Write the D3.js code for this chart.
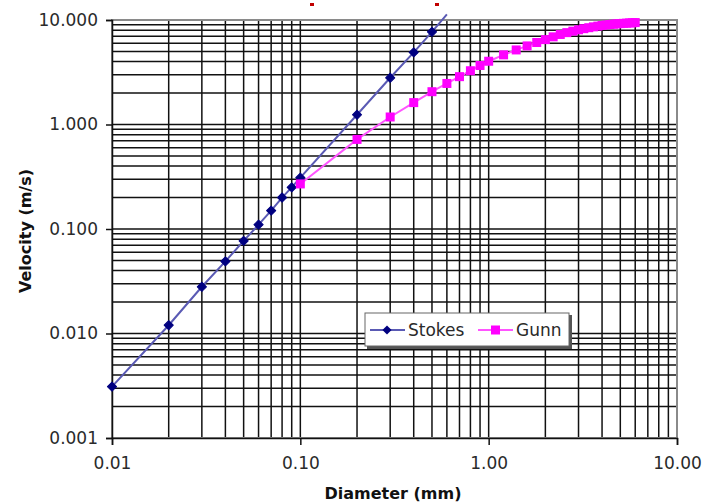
<!DOCTYPE html>
<html>
<head>
<meta charset="utf-8">
<script src="https://cdn.jsdelivr.net/npm/d3@7"></script>
<style>
  body { margin: 0; background: #fff; }
  text { font-family: "DejaVu Sans", Verdana, sans-serif; }
</style>
</head>
<body>
<div id="chart"></div>
<script>
// diameters (mm) and velocities (m/s)
var stokesD = [0.01, 0.02, 0.03, 0.04, 0.05, 0.06, 0.07, 0.08, 0.09, 0.1, 0.2, 0.3, 0.4, 0.5, 0.6];
var stokesV = [0.0031, 0.012, 0.028, 0.049, 0.077, 0.11, 0.15, 0.20, 0.25, 0.31, 1.24, 2.8, 4.9, 7.7, 11.3];

var gunnD = [0.1, 0.2, 0.3, 0.4, 0.5, 0.6, 0.7, 0.8, 0.9, 1.0,
             1.2, 1.4, 1.6, 1.8, 2.0, 2.2, 2.4, 2.6, 2.8, 3.0,
             3.2, 3.4, 3.6, 3.8, 4.0, 4.2, 4.4, 4.6, 4.8, 5.0,
             5.2, 5.4, 5.6, 5.8, 6.0];
var gunnV = [0.27, 0.72, 1.18, 1.62, 2.06, 2.47, 2.87, 3.27, 3.67, 4.03,
             4.64, 5.17, 5.65, 6.09, 6.49, 6.90, 7.27, 7.57, 7.82, 8.06,
             8.26, 8.44, 8.60, 8.74, 8.86, 8.96, 9.05, 9.12, 9.18, 9.24,
             9.29, 9.33, 9.37, 9.41, 9.45];

var xTicks = [0.01, 0.1, 1, 10];
var yTicks = [0.001, 0.01, 0.1, 1, 10];

var W = 714, H = 504;
var pLeft = 112, pRight = 677, pTop = 20, pBottom = 438;

var x = d3.scaleLog().domain([0.01, 10]).range([pLeft, pRight]);
var y = d3.scaleLog().domain([0.001, 10]).range([pBottom, pTop]);

var svg = d3.select("#chart").append("svg")
    .attr("width", W).attr("height", H);

// grid lines, 1..9 in each decade
function decadeValues(lo, hi) {
  var out = [];
  for (var p = Math.round(Math.log10(lo)); p < Math.round(Math.log10(hi)); p++) {
    for (var k = 1; k <= 9; k++) out.push(k * Math.pow(10, p));
  }
  out.push(hi);
  return out;
}
var xGrid = decadeValues(0.01, 10);
var yGrid = decadeValues(0.001, 10);

var grid = svg.append("g").attr("stroke", "#111").attr("stroke-width", 1.5);
grid.selectAll("line.v").data(xGrid).enter().append("line")
    .attr("x1", d => x(d)).attr("x2", d => x(d))
    .attr("y1", pTop).attr("y2", pBottom);
grid.selectAll("line.h").data(yGrid).enter().append("line")
    .attr("x1", pLeft).attr("x2", pRight)
    .attr("y1", d => y(d)).attr("y2", d => y(d));

// plot border
svg.append("rect")
    .attr("x", pLeft).attr("y", pTop)
    .attr("width", pRight - pLeft).attr("height", pBottom - pTop)
    .attr("fill", "none").attr("stroke", "#8a8a8a").attr("stroke-width", 2);

// axes
var yAxis = d3.axisLeft(y).tickValues(yTicks).tickSize(6).tickPadding(8)
    .tickFormat(d3.format(".3f"));
var gy = svg.append("g").attr("transform", "translate(" + pLeft + ",0)").call(yAxis);
var xAxis = d3.axisBottom(x).tickValues(xTicks).tickSize(7).tickPadding(12)
    .tickFormat(d3.format(".2f"));
var gx = svg.append("g").attr("transform", "translate(0," + pBottom + ")").call(xAxis);

[gx, gy].forEach(function(g) {
  g.select(".domain").attr("stroke", "#111").attr("stroke-width", 1.5);
  g.selectAll(".tick line").attr("stroke", "#111").attr("stroke-width", 1.5);
  g.selectAll(".tick text").attr("fill", "#2a2a2a")
      .style("font-size", "17px").style("font-family", "DejaVu Sans, sans-serif");
});

// axis titles
svg.append("text")
    .attr("x", 393).attr("y", 499)
    .attr("text-anchor", "middle")
    .style("font-size", "16px").style("font-weight", "bold").attr("fill", "#111")
    .text("Diameter (mm)");
svg.append("text")
    .attr("transform", "translate(31,231) rotate(-90)")
    .attr("text-anchor", "middle")
    .style("font-size", "16px").style("font-weight", "bold").attr("fill", "#111")
    .text("Velocity (m/s)");

// series
var stokes = stokesD.map((d, i) => ({d: d, v: stokesV[i]}));
var gunn = gunnD.map((d, i) => ({d: d, v: gunnV[i]}));
var line = d3.line().x(p => x(p.d)).y(p => y(p.v));

svg.append("path").datum(stokes)
    .attr("d", line).attr("fill", "none")
    .attr("stroke", "#5a5ab4").attr("stroke-width", 2);
svg.append("path").datum(gunn)
    .attr("d", line).attr("fill", "none")
    .attr("stroke", "#ff55ff").attr("stroke-width", 2);

// diamond = square turned 45 degrees
var diamond = d3.symbol().type(d3.symbolSquare).size(42);
svg.selectAll("path.stk").data(stokes.filter(p => p.v <= 10)).enter().append("path")
    .attr("d", diamond)
    .attr("transform", p => "translate(" + x(p.d) + "," + y(p.v) + ") rotate(45)")
    .attr("fill", "#000080").attr("stroke", "#000080").attr("stroke-width", 1)
    .attr("stroke-linejoin", "round");

svg.selectAll("rect.gun").data(gunn).enter().append("rect")
    .attr("x", p => x(p.d) - 4.5).attr("y", p => y(p.v) - 4.5)
    .attr("width", 9).attr("height", 9)
    .attr("fill", "#ff00ff");

// small red marks above the plot
svg.append("rect").attr("x", 310).attr("y", 3).attr("width", 4).attr("height", 3).attr("fill", "#c00000");
svg.append("rect").attr("x", 435).attr("y", 3).attr("width", 4).attr("height", 3).attr("fill", "#c00000");

// legend
var lg = svg.append("g");
lg.append("rect").attr("x", 367).attr("y", 315).attr("width", 205).attr("height", 34).attr("fill", "#555");
lg.append("rect").attr("x", 365).attr("y", 313).attr("width", 204).attr("height", 33)
    .attr("fill", "#fff").attr("stroke", "#666").attr("stroke-width", 1);
var legendItems = [
  {name: "Stokes", x0: 370, color: "#5a5ab4", mark: "#000080", shape: "diamond", tx: 408},
  {name: "Gunn", x0: 478, color: "#ff55ff", mark: "#ff00ff", shape: "square", tx: 516}
];
legendItems.forEach(function(it) {
  lg.append("line").attr("x1", it.x0).attr("x2", it.x0 + 35)
      .attr("y1", 330).attr("y2", 330)
      .attr("stroke", it.color).attr("stroke-width", 2);
  if (it.shape === "diamond") {
    lg.append("path").attr("d", diamond)
        .attr("transform", "translate(" + (it.x0 + 17) + ",330) rotate(45)").attr("fill", it.mark);
  } else {
    lg.append("rect").attr("x", it.x0 + 13).attr("y", 325.5).attr("width", 9).attr("height", 9)
        .attr("fill", it.mark);
  }
  lg.append("text").attr("x", it.tx).attr("y", 336)
      .style("font-size", "17px").attr("fill", "#2a2a2a").text(it.name);
});
</script>
</body>
</html>
